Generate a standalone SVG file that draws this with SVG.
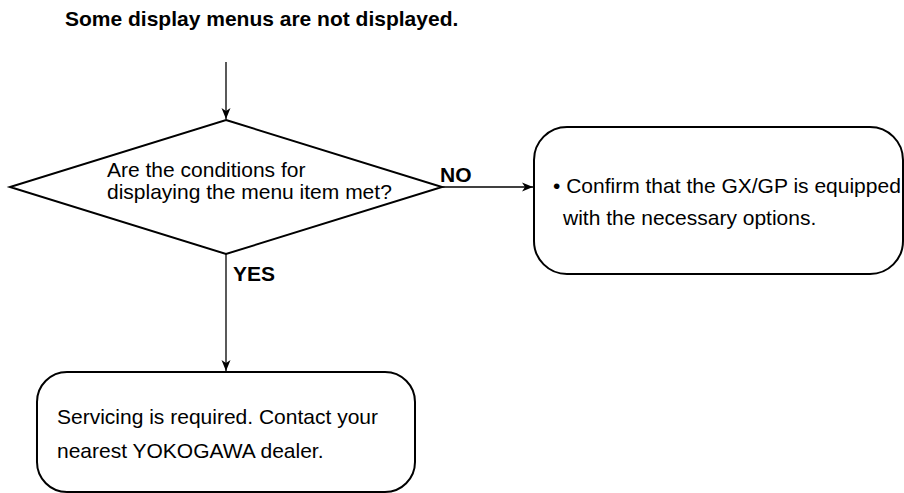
<svg xmlns="http://www.w3.org/2000/svg" width="904" height="493" viewBox="0 0 904 493">
  <defs>
    <style>
      .t { font-family: "Liberation Sans", Arial, sans-serif; font-size: 21px; fill: #000; }
      .b { font-weight: bold; }
      .shape { fill: #fff; stroke: #000; stroke-width: 2; }
      .conn { fill: none; stroke: #000; stroke-width: 1.3; }
    </style>
    <marker id="arr" markerWidth="12" markerHeight="10" refX="11" refY="5" orient="auto" markerUnits="userSpaceOnUse">
      <path d="M0,0.5 L11,5 L0,9.5 L3,5 Z" fill="#000"/>
    </marker>
  </defs>
  <rect width="904" height="493" fill="#fff"/>

  <text id="title" class="t b" x="65" y="26">Some display menus are not displayed.</text>

  <g id="connectors">
    <line class="conn" x1="226" y1="62" x2="226" y2="119" marker-end="url(#arr)"/>
    <line class="conn" x1="442" y1="187" x2="533" y2="187" marker-end="url(#arr)"/>
    <line class="conn" x1="226" y1="254" x2="226" y2="371" marker-end="url(#arr)"/>
    <text class="t b" x="440" y="182">NO</text>
    <text class="t b" x="233" y="281">YES</text>
  </g>

  <g id="decision">
    <polygon class="shape" points="226,120 442,187 226,254 10,187"/>
    <text class="t" x="107" y="177">Are the conditions for</text>
    <text class="t" x="107" y="199">displaying the menu item met?</text>
  </g>

  <g id="options">
    <rect class="shape" x="534" y="127" width="369" height="147" rx="33" ry="33"/>
    <text class="t" x="553" y="193">• Confirm that the GX/GP is equipped</text>
    <text class="t" x="563" y="225">with the necessary options.</text>
  </g>

  <g id="servicing">
    <rect class="shape" x="37" y="372" width="378" height="120" rx="30" ry="30"/>
    <text class="t" x="57" y="424">Servicing is required. Contact your</text>
    <text class="t" x="57" y="458">nearest YOKOGAWA dealer.</text>
  </g>
</svg>
